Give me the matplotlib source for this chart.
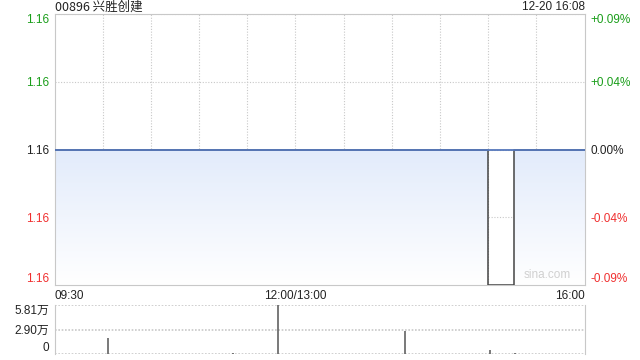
import numpy as np
import matplotlib.pyplot as plt
from matplotlib.patches import Polygon
from matplotlib.colors import LinearSegmentedColormap

plt.rcParams['font.family'] = ['Liberation Sans', 'Noto Sans CJK SC', 'DejaVu Sans']

# data: minutes since 09:30 with lunch break removed (0..330)
title = "00896 兴胜创建"
stamp = "12-20 16:08"
prev_close = 1.16
price_t = [0, 270, 286, 330]
price_v = [1.16, 1.159, 1.16, 1.16]
vol_t = [33, 111, 139, 218, 271, 287]
vol_v = [19300, 1000, 58100, 27300, 4700, 1500]
time_ticks = [0, 150, 330]
time_labels = ["09:30", "12:00/13:00", "16:00"]

green = "#1a9e1a"
red = "#f03030"
grid_c = "#c8c8c8"

fig = plt.figure(figsize=(6.4, 3.6), dpi=100)
W, H = 640, 360
L, R = 54.5, 584.5
ax = fig.add_axes([L / W, (H - 285) / H, (R - L) / W, (285 - 14) / H])
axv = fig.add_axes([L / W, (H - 354) / H, (R - L) / W, (354 - 305) / H])

span = prev_close - min(price_v)
ylo, yhi = prev_close - span, prev_close + span
ax.set_xlim(0, 330)
ax.set_ylim(ylo, yhi)

# gradient fill under price
tt = []
vv = []
for i in range(len(price_t) - 1):
    tt += [price_t[i], price_t[i + 1]]
    vv += [price_v[i], price_v[i]]
poly = Polygon(list(zip(tt, vv)) + [(330, ylo), (0, ylo)], closed=True,
               facecolor='none', edgecolor='none')
ax.add_patch(poly)
grad = np.linspace(1, 0, 256).reshape(-1, 1)
cmap = LinearSegmentedColormap.from_list("f", ["#ffffff", "#e2ebfb"])
im = ax.imshow(grad, extent=[0, 330, ylo, prev_close], aspect='auto',
               cmap=cmap, origin='upper', zorder=1)
im.set_clip_path(poly)

ax.plot(price_t, price_v, drawstyle='steps-post', color='#444444', lw=1.1, zorder=3)
ax.axhline(prev_close, color='#5577bb', lw=1.3, zorder=4)

yt = np.linspace(ylo, yhi, 5)
ax.set_yticks(yt)
ax.set_yticklabels(["%.2f" % v for v in yt])
ax.set_xticks(np.arange(30, 330, 30) / 1.0)
ax.tick_params(axis='x', length=0, labelbottom=False)
ax.tick_params(axis='y', length=0, labelsize=8.5, pad=4)
ax.grid(True, color=grid_c, ls=(0, (1, 1.5)), lw=0.8)
ax.set_axisbelow(True)
for s in ax.spines.values():
    s.set_color(grid_c)

ylab = ax.get_yticklabels()
for i, lab in enumerate(ylab):
    lab.set_color(green if i > 2 else (red if i < 2 else '#222222'))
ylab[0].set_va('bottom')
ylab[-1].set_va('top')

ax2 = ax.twinx()
ax2.set_ylim(ax.get_ylim())
ax2.set_yticks(yt)
pl = []
for v in yt:
    p = (v - prev_close) / prev_close * 100
    pl.append("0.00%" if abs(p) < 1e-9 else "%+.2f%%" % p)
ax2.set_yticklabels(pl)
ax2.tick_params(axis='y', length=0, labelsize=8.5, pad=4)
for s in ax2.spines.values():
    s.set_visible(False)
rl = ax2.get_yticklabels()
for i, lab in enumerate(rl):
    lab.set_color(green if i > 2 else (red if i < 2 else '#222222'))
rl[0].set_va('bottom')
rl[-1].set_va('top')

# time labels
for t, s in zip(time_ticks, time_labels):
    ha = 'left' if t == 0 else ('right' if t == 330 else 'center')
    ax.text(t, -0.02, s, transform=ax.get_xaxis_transform(), ha=ha, va='top',
            fontsize=8.5, color='#222222')

fig.text(L / W + 0.001, 1 - 7 / H, title, ha='left', va='center', fontsize=9,
         color='#222222', family=['Noto Sans CJK SC', 'DejaVu Sans'])
fig.text(R / W, 1 - 7 / H, stamp, ha='right', va='center', fontsize=8.5, color='#222222')
ax.text(0.975, 0.015, "sina.com", transform=ax.transAxes, ha='right', va='bottom',
        fontsize=8.5, color='#d0d0d0', zorder=5)

# volume panel
vmax = max(vol_v)
axv.vlines(vol_t, 0, vol_v, color='#555555', lw=1.1)
axv.set_xlim(0, 330)
axv.set_ylim(0, vmax)
axv.set_yticks([0, vmax / 2, vmax])
axv.set_yticklabels(["0", "%.2f万" % (vmax / 2 / 10000 - 0.005), "%.2f万" % (vmax / 10000)])
axv.tick_params(axis='y', length=0, labelsize=8.5, pad=4, labelcolor='#222222')
axv.set_xticks([])
axv.yaxis.grid(True, color=grid_c, ls=(0, (1, 1)), lw=1.2)
axv.spines['top'].set_visible(False)
axv.spines['bottom'].set_visible(False)
axv.spines['left'].set_color(grid_c)
axv.spines['right'].set_color(grid_c)
vl = axv.get_yticklabels()
for lab in vl:
    lab.set_family(['Liberation Sans', 'Noto Sans CJK SC', 'DejaVu Sans'])
vl[0].set_va('bottom')
vl[-1].set_va('top')

fig.savefig("out.png", dpi=100)
